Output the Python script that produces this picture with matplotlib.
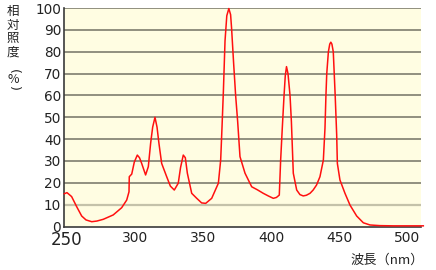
import matplotlib
matplotlib.use("Agg")
import matplotlib.pyplot as plt

plt.rcParams['font.family'] = ['Noto Sans CJK JP', 'DejaVu Sans']

wavelength = [248, 250, 253.4, 257.1, 260.8, 264, 268.2, 272, 276.7, 284, 290.2, 293.9,
              295.6, 295.8, 297.6, 299.5, 301.7, 303.3, 304.9, 307.8, 309.8, 311.5, 313,
              314.7, 316.2, 317.6, 319.6, 323.3, 326, 328.9, 331.8, 333.5, 335.5, 337,
              338.5, 341.7, 345.4, 349, 352, 356.4, 361.3, 363, 364, 365, 366.2, 367.5,
              369, 370.3, 371, 372.5, 374, 375.5, 377.2, 380.9, 385.8, 390, 394.3, 398,
              401.7, 404, 406.1, 407.1, 408.3, 409.6, 410.5, 411.4, 412.5, 414, 415,
              416.4, 418.9, 421.3, 423.7, 426, 428.7, 431, 433.5, 436, 438.5, 439.7,
              440.4, 441, 442.2, 443.2, 444, 444.8, 445.8, 446.5, 447.2, 448.3, 448.8,
              450.7, 454.4, 458.1, 463, 467.9, 472.8, 480, 490, 500, 512]
intensity = [15.0, 15.5, 13.7, 9.1, 4.8, 3.0, 2.2, 2.5, 3.3, 5.3, 8.6, 12.1,
             15.9, 22.8, 24.0, 29.5, 32.7, 31.5, 28.9, 23.6, 27.4, 38.1, 45.5,
             50.0, 45.5, 38.1, 28.9, 22.8, 18.5, 16.7, 19.8, 27.0, 32.7, 31.5,
             24.4, 15.2, 12.9, 10.8, 10.6, 12.9, 19.8, 30.4, 45.7, 62.0, 85.0, 96.5,
             99.8, 97.0, 91.0, 75.0, 60.0, 48.0, 32.0, 24.4, 18.2, 16.8, 15.2, 14.0,
             12.9, 13.3, 14.4, 30.4, 45.0, 60.0, 69.0, 73.2, 70.0, 60.0, 48.0,
             24.4, 16.7, 14.6, 14.0, 14.3, 15.2, 16.7, 19.0, 22.8, 30.4, 45.0,
             60.0, 70.0, 80.0, 83.5, 84.4, 83.5, 80.0, 70.0, 60.0, 42.0, 28.9,
             21.3, 15.2, 9.8, 4.8, 1.7, 0.7, 0.4, 0.3, 0.3, 0.3]

x_ticks = [250, 300, 350, 400, 450, 500]
y_ticks = [0, 10, 20, 30, 40, 50, 60, 70, 80, 90, 100]
ylabel_chars = ["相", "対", "照", "度", "(", "%", ")"]
ylabel_rot = [0, 0, 0, 0, -90, 0, -90]
xlabel_text = "波長（nm）"

W, H = 436, 270
fig = plt.figure(figsize=(W / 100, H / 100), dpi=100)
ax = fig.add_axes([64 / W, 1 - 226.5 / H, (421 - 64) / W, (226.5 - 8.1) / H])
ax.set_facecolor('#FFFDE2')

for y in y_ticks[1:]:
    if y == 10:
        ax.axhline(y, color='#C4C2AA', lw=1.6, zorder=1)
    else:
        ax.axhline(y, color='#7E7D6E', lw=1.2, zorder=1)

ax.plot(wavelength, intensity, color='#FF1010', lw=1.1, zorder=3, clip_on=False)

ax.set_xlim(247.8, 510.3)
ax.set_ylim(0, 100)
ax.set_xticks(x_ticks)
ax.set_yticks(y_ticks)
ax.set_xticklabels([str(v) for v in x_ticks], fontsize=10, color='#222222', family='DejaVu Sans')
ax.set_yticklabels([str(v) for v in y_ticks], fontsize=9.8, color='#222222', family='DejaVu Sans')
ax.get_xticklabels()[0].set_fontsize(12)
ax.tick_params(axis='both', length=0)
ax.tick_params(axis='y', pad=2)
ax.tick_params(axis='x', pad=3.5)

for s in ['top', 'right']:
    ax.spines[s].set_visible(False)
ax.spines['left'].set_color('#3A3A3A')
ax.spines['bottom'].set_color('#3A3A3A')
ax.spines['left'].set_linewidth(1.2)
ax.spines['bottom'].set_linewidth(1.2)

ycenters = [11.5, 25, 38.5, 52, 71, 79.5, 88]
for ch, yc, rot in zip(ylabel_chars, ycenters, ylabel_rot):
    fam = 'DejaVu Sans' if rot else ['Noto Sans CJK JP', 'DejaVu Sans']
    fig.text(13 / W, 1 - yc / H, ch, fontsize=9, ha='center', va='center',
             rotation=rot, color='#222222', family=fam)

fig.text(424 / W, 1 - 260 / H, xlabel_text, fontsize=9.5, ha='right', va='center', color='#222222')

fig.savefig('out.png', dpi=100)
